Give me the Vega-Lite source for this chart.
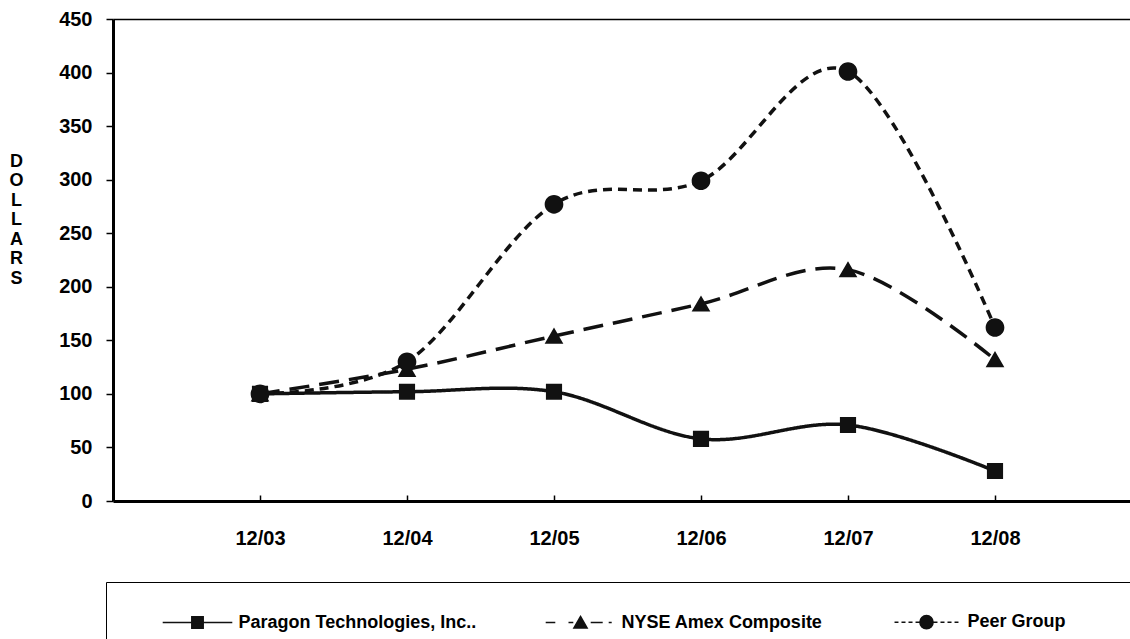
{
  "$schema": "https://vega.github.io/schema/vega-lite/v6.json",
  "width": 1029,
  "height": 482,
  "autosize": "none",
  "padding": {"left": 113, "top": 19, "right": -12, "bottom": 138},
  "background": "white",
  "config": {"view": {"stroke": null}, "font": "Liberation Sans"},
  "data": {
    "values": [
      {"period": "12/03", "series": "Paragon Technologies, Inc..", "value": 100},
      {"period": "12/04", "series": "Paragon Technologies, Inc..", "value": 102},
      {"period": "12/05", "series": "Paragon Technologies, Inc..", "value": 102},
      {"period": "12/06", "series": "Paragon Technologies, Inc..", "value": 58},
      {"period": "12/07", "series": "Paragon Technologies, Inc..", "value": 71},
      {"period": "12/08", "series": "Paragon Technologies, Inc..", "value": 28},
      {"period": "12/03", "series": "NYSE Amex Composite", "value": 100},
      {"period": "12/04", "series": "NYSE Amex Composite", "value": 123},
      {"period": "12/05", "series": "NYSE Amex Composite", "value": 154},
      {"period": "12/06", "series": "NYSE Amex Composite", "value": 184},
      {"period": "12/07", "series": "NYSE Amex Composite", "value": 216},
      {"period": "12/08", "series": "NYSE Amex Composite", "value": 132},
      {"period": "12/03", "series": "Peer Group", "value": 100},
      {"period": "12/04", "series": "Peer Group", "value": 130},
      {"period": "12/05", "series": "Peer Group", "value": 277},
      {"period": "12/06", "series": "Peer Group", "value": 299},
      {"period": "12/07", "series": "Peer Group", "value": 401},
      {"period": "12/08", "series": "Peer Group", "value": 162}
    ]
  },
  "layer": [
    {
      "mark": {"type": "line", "interpolate": "cardinal", "color": "#111111", "strokeWidth": 3.5},
      "encoding": {
        "x": {
          "field": "period", "type": "ordinal", "sort": null,
          "scale": {"type": "point", "padding": 1},
          "axis": {
            "orient": "bottom", "title": null, "labelAngle": 0,
            "labelFont": "Liberation Sans", "labelFontSize": 20, "labelFontWeight": "bold", "labelColor": "black",
            "labelPadding": 33, "tickSize": -6, "tickColor": "black", "tickWidth": 1.5,
            "domainColor": "black", "domainWidth": 3, "grid": false
          }
        },
        "y": {
          "field": "value", "type": "quantitative",
          "scale": {"domain": [0, 450], "nice": false},
          "axis": {
            "title": ["D", "O", "L", "L", "A", "R", "S"],
            "titleAngle": 0, "titleFont": "Liberation Sans", "titleFontSize": 18, "titleFontWeight": "bold",
            "titleColor": "black", "titleLineHeight": 19.5, "titleX": -97, "titleY": 142,
            "titleAlign": "center", "titleBaseline": "middle",
            "values": [0, 50, 100, 150, 200, 250, 300, 350, 400, 450],
            "grid": false, "domainColor": "black", "domainWidth": 3,
            "tickColor": "black", "tickWidth": 1.5, "tickSize": 7,
            "labelFont": "Liberation Sans", "labelFontSize": 20, "labelFontWeight": "bold", "labelColor": "black",
            "labelPadding": 14
          }
        },
        "strokeDash": {
          "field": "series", "type": "nominal",
          "scale": {"domain": ["Paragon Technologies, Inc..", "NYSE Amex Composite", "Peer Group"], "range": [[1, 0], [20, 10], [9, 6]]},
          "legend": null
        }
      }
    },
    {
      "mark": {"type": "point", "filled": true, "size": 289, "color": "#111111", "opacity": 1},
      "encoding": {
        "x": {
          "field": "period", "type": "ordinal", "sort": null,
          "scale": {"type": "point", "padding": 1},
          "axis": {"orient": "top", "title": null, "labels": false, "ticks": false, "domainColor": "black", "domainWidth": 1.5, "grid": false}
        },
        "y": {"field": "value", "type": "quantitative", "scale": {"domain": [0, 450], "nice": false}},
        "shape": {
          "field": "series", "type": "nominal",
          "scale": {
            "domain": ["Paragon Technologies, Inc..", "NYSE Amex Composite", "Peer Group"],
            "range": [
              "M-5.8,0H5.8M-0.95,-0.95H0.95V0.95H-0.95Z",
              "M-5.8,0H-4.2M-2,0H-1.2M0,-1L1.1,0.9H-1.1ZM1.7,0H3.7M4.7,0H5.2",
              "M-5.33,0H-4.67M-4.17,0H-3.5M-3,0H-2.33M-1.83,0H-1.17M1.17,0H1.83M2.33,0H3M3.5,0H4.17M4.67,0H5.33M1.1,0A1.1,1.1,0,1,1,-1.1,0A1.1,1.1,0,1,1,1.1,0Z"
            ]
          },
          "legend": {
            "orient": "none", "legendX": -7, "legendY": 563, "direction": "horizontal",
            "title": "\u00a0", "titleOrient": "right", "titlePadding": 40, "titleFontSize": 18,
            "padding": 31,
            "labelFont": "Liberation Sans", "labelFontSize": 18, "labelFontWeight": "bold", "labelColor": "black", "labelLimit": 500, "labelOpacity": 0,
            "symbolSize": 144, "symbolOffset": 51.5, "labelOffset": 32, "columnPadding": 43,
            "symbolFillColor": "#111111", "symbolStrokeWidth": 1.5, "symbolOpacity": 1
          }
        }
      }
    },
    {
      "mark": {"type": "point", "filled": false, "size": 289, "color": "#111111", "strokeWidth": 1.5, "opacity": 0},
      "encoding": {
        "x": {"field": "period", "type": "ordinal", "sort": null, "scale": {"type": "point", "padding": 1}, "axis": null},
        "y": {"field": "value", "type": "quantitative", "scale": {"domain": [0, 450], "nice": false}},
        "shape": {
          "field": "series", "type": "nominal",
          "legend": {
            "orient": "none", "legendX": -7, "legendY": 563, "direction": "horizontal",
            "title": "\u00a0", "titleOrient": "right", "titlePadding": 40, "titleFontSize": 18,
            "strokeColor": "black", "padding": 31,
            "labelFont": "Liberation Sans", "labelFontSize": 18, "labelFontWeight": "bold", "labelColor": "black", "labelLimit": 500,
            "symbolSize": 144, "symbolOffset": 51.5, "labelOffset": 32, "columnPadding": 43,
            "symbolStrokeColor": "#111111", "symbolStrokeWidth": 1.5, "symbolOpacity": 1
          }
        }
      }
    }
  ],
  "resolve": {"axis": {"x": "independent"}, "legend": {"shape": "independent", "strokeDash": "independent"}}
}
